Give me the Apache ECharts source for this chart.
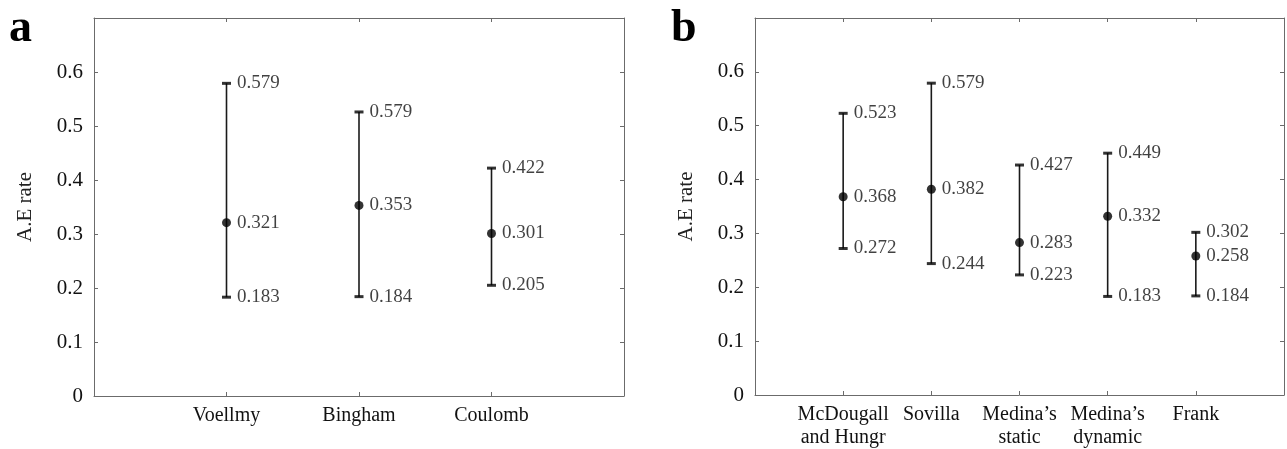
<!DOCTYPE html>
<html>
<head>
<meta charset="utf-8">
<script src="https://cdn.jsdelivr.net/npm/echarts@6/dist/echarts.min.js"></script>
<style>
  html, body { margin: 0; padding: 0; background: #fff; }
  #chart { width: 1287px; height: 449px; }
</style>
</head>
<body>
<div id="chart"></div>
<script>
// panel a
const catsA = ['Voellmy', 'Bingham', 'Coulomb'];
const lowA = [0.183, 0.184, 0.205];
const meanA = [0.321, 0.353, 0.301];
const highA = [0.579, 0.526, 0.422];
const lowTxtA = ['0.183', '0.184', '0.205'];
const meanTxtA = ['0.321', '0.353', '0.301'];
const highTxtA = ['0.579', '0.579', '0.422'];

// panel b
const catsB = ['McDougall\nand Hungr', 'Sovilla', 'Medina\u2019s\nstatic', 'Medina\u2019s\ndynamic', 'Frank'];
const lowB = [0.272, 0.244, 0.223, 0.183, 0.184];
const meanB = [0.368, 0.382, 0.283, 0.332, 0.258];
const highB = [0.523, 0.579, 0.427, 0.449, 0.302];
const lowTxtB = ['0.272', '0.244', '0.223', '0.183', '0.184'];
const meanTxtB = ['0.368', '0.382', '0.283', '0.332', '0.258'];
const highTxtB = ['0.523', '0.579', '0.427', '0.449', '0.302'];

const yTicks = ['0', '0.1', '0.2', '0.3', '0.4', '0.5', '0.6'];

const FONT = '"Liberation Serif", "Times New Roman", serif';
const FRAME = '#6b6b6b';
const TICK = 4;

const chart = echarts.init(document.getElementById('chart'));

function xAxes(gi, cats, pos) {
  const bottom = pos === 'bottom';
  return {
    type: 'value', gridIndex: gi, position: pos,
    min: 0, max: cats.length + 1, interval: 1,
    axisLine: { show: true, onZero: false, lineStyle: { color: FRAME, width: 1 } },
    axisTick: { show: true, inside: true, length: TICK, lineStyle: { color: FRAME } },
    splitLine: { show: false },
    axisLabel: {
      show: bottom, margin: 8,
      fontFamily: FONT, fontSize: 20, color: '#111', lineHeight: 23,
      formatter: v => (v >= 1 && v <= cats.length ? cats[v - 1] : '')
    }
  };
}

function yAxes(gi, pos, withName) {
  const left = pos === 'left';
  return {
    type: 'value', gridIndex: gi, position: pos,
    min: 0, max: 0.7, interval: 0.1,
    name: withName ? 'A.E rate' : '',
    nameLocation: 'middle', nameGap: 58,
    nameTextStyle: { fontFamily: FONT, fontSize: 21, color: '#222' },
    axisLine: { show: true, onZero: false, lineStyle: { color: FRAME, width: 1 } },
    axisTick: { show: true, inside: true, length: TICK, lineStyle: { color: FRAME } },
    splitLine: { show: false },
    axisLabel: {
      show: left, margin: 11,
      fontFamily: FONT, fontSize: 21, color: '#111',
      formatter: v => {
        const i = Math.round(v * 10);
        return i < yTicks.length ? yTicks[i] : '';
      }
    }
  };
}

function panelSeries(xi, yi, low, mean, high, lowTxt, meanTxt, highTxt) {
  const idx = low.map((_, i) => i + 1);
  const lbl = txt => ({
    show: true, position: 'right', distance: 6,
    fontFamily: FONT, fontSize: 19, color: '#111',
    formatter: p => txt[p.dataIndex]
  });
  return [
    {
      type: 'custom', xAxisIndex: xi, yAxisIndex: yi, silent: true,
      data: idx.map((x, i) => [x, low[i], high[i]]),
      renderItem: (params, api) => {
        const a = api.coord([api.value(0), api.value(1)]);
        const b = api.coord([api.value(0), api.value(2)]);
        return {
          type: 'line',
          shape: { x1: a[0], y1: a[1], x2: b[0], y2: b[1] },
          style: { stroke: '#1a1a1a', lineWidth: 1.6 }
        };
      },
      z: 1
    },
    {
      type: 'scatter', xAxisIndex: xi, yAxisIndex: yi, silent: true,
      symbol: 'rect', symbolSize: [9, 3],
      itemStyle: { color: '#000' },
      data: idx.map((x, i) => [x, high[i]]),
      label: lbl(highTxt), z: 2
    },
    {
      type: 'scatter', xAxisIndex: xi, yAxisIndex: yi, silent: true,
      symbol: 'rect', symbolSize: [9, 3],
      itemStyle: { color: '#000' },
      data: idx.map((x, i) => [x, low[i]]),
      label: lbl(lowTxt), z: 2
    },
    {
      type: 'scatter', xAxisIndex: xi, yAxisIndex: yi, silent: true,
      symbol: 'circle', symbolSize: 9,
      itemStyle: { color: '#000' },
      data: idx.map((x, i) => [x, mean[i]]),
      label: lbl(meanTxt), z: 3
    }
  ];
}

chart.setOption({
  animation: false,
  backgroundColor: '#fff',
  grid: [
    { left: 94, top: 18, width: 530, height: 378 },
    { left: 755, top: 18, width: 530, height: 378 }
  ],
  xAxis: [
    xAxes(0, catsA, 'bottom'), xAxes(0, catsA, 'top'),
    xAxes(1, catsB, 'bottom'), xAxes(1, catsB, 'top')
  ],
  yAxis: [
    yAxes(0, 'left', true), yAxes(0, 'right', false),
    yAxes(1, 'left', true), yAxes(1, 'right', false)
  ],
  graphic: [
    { type: 'text', left: 9, top: 6, style: { text: 'a', font: 'bold 46px ' + FONT, fill: '#000' } },
    { type: 'text', left: 671, top: 6, style: { text: 'b', font: 'bold 46px ' + FONT, fill: '#000' } }
  ],
  series: [
    ...panelSeries(0, 0, lowA, meanA, highA, lowTxtA, meanTxtA, highTxtA),
    ...panelSeries(2, 2, lowB, meanB, highB, lowTxtB, meanTxtB, highTxtB)
  ]
});
</script>
</body>
</html>
